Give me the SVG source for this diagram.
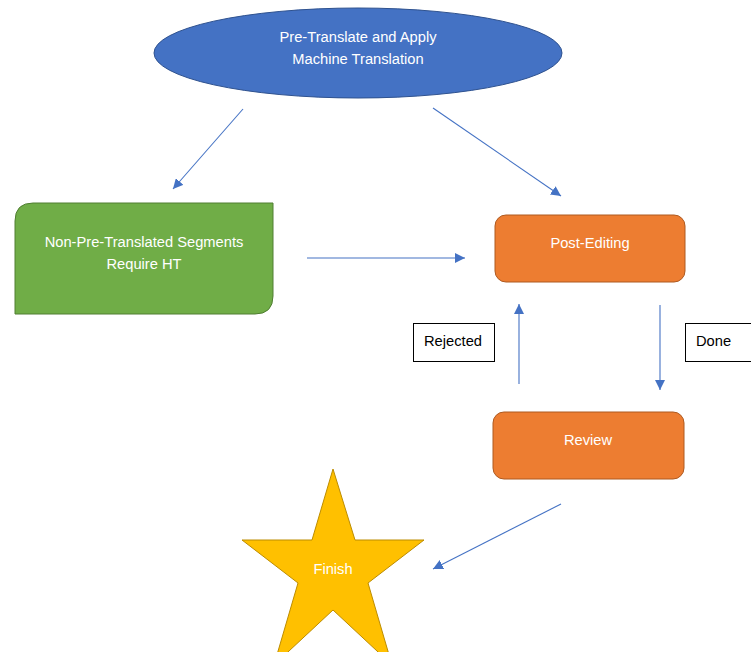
<svg xmlns="http://www.w3.org/2000/svg" width="751" height="652" viewBox="0 0 751 652">
<defs>
<style>
.t{font-family:"Liberation Sans",Arial,sans-serif;font-size:14.7px;text-anchor:middle;fill:#ffffff}
.lb{font-family:"Liberation Sans",Arial,sans-serif;font-size:14.7px;fill:#000000}
.c{stroke:#4472C4;stroke-width:1.1;fill:none;marker-end:url(#ah)}
</style>
<marker id="ah" markerUnits="userSpaceOnUse" markerWidth="12" markerHeight="10" refX="10" refY="5" orient="auto">
<path d="M0,0 L10,5 L0,10 Z" fill="#4472C4"/>
</marker>
</defs>
<rect width="751" height="652" fill="#ffffff"/>
<g id="connectors">
<line class="c" x1="243" y1="109" x2="173" y2="189"/>
<line class="c" x1="433" y1="108" x2="561" y2="196"/>
<line class="c" x1="307" y1="258" x2="465" y2="258"/>
<line class="c" x1="519" y1="384" x2="519" y2="304"/>
<line class="c" x1="660" y1="305" x2="660" y2="390"/>
<line class="c" x1="561" y1="504" x2="433" y2="569"/>
</g>
<g id="pretranslate">
<ellipse cx="358" cy="53" rx="204" ry="45" fill="#4472C4" stroke="#2F528F" stroke-width="1"/>
<text class="t" x="358" y="42">Pre-Translate and Apply</text>
<text class="t" x="358" y="64">Machine Translation</text>
</g>
<g id="nonpretranslated">
<path d="M33,203 L273,203 L273,296 Q273,314 255,314 L15,314 L15,221 Q15,203 33,203 Z" fill="#70AD47" stroke="#507E32" stroke-width="1"/>
<text class="t" x="144" y="247">Non-Pre-Translated Segments</text>
<text class="t" x="144" y="269">Require HT</text>
</g>
<g id="postediting">
<rect x="495" y="215" width="190" height="67" rx="11" fill="#ED7D31" stroke="#AE5A21" stroke-width="1"/>
<text class="t" x="590" y="248">Post-Editing</text>
</g>
<g id="review">
<rect x="493" y="412" width="191" height="67" rx="11" fill="#ED7D31" stroke="#AE5A21" stroke-width="1"/>
<text class="t" x="588" y="445">Review</text>
</g>
<g id="rejected">
<rect x="413.5" y="323.5" width="81" height="38" fill="#ffffff" stroke="#000000" stroke-width="1"/>
<text class="lb" x="424" y="346">Rejected</text>
</g>
<g id="done">
<rect x="685.5" y="323.5" width="70" height="38" fill="#ffffff" stroke="#000000" stroke-width="1"/>
<text class="lb" x="696" y="346">Done</text>
</g>
<g id="finish">
<polygon points="333,469 355,540 424,540 368,583 392,665 333,610 274,665 298,583 242,540 312,540" fill="#FFC000" stroke="#BC8C00" stroke-width="1"/>
<text class="t" x="333" y="574">Finish</text>
</g>
</svg>
